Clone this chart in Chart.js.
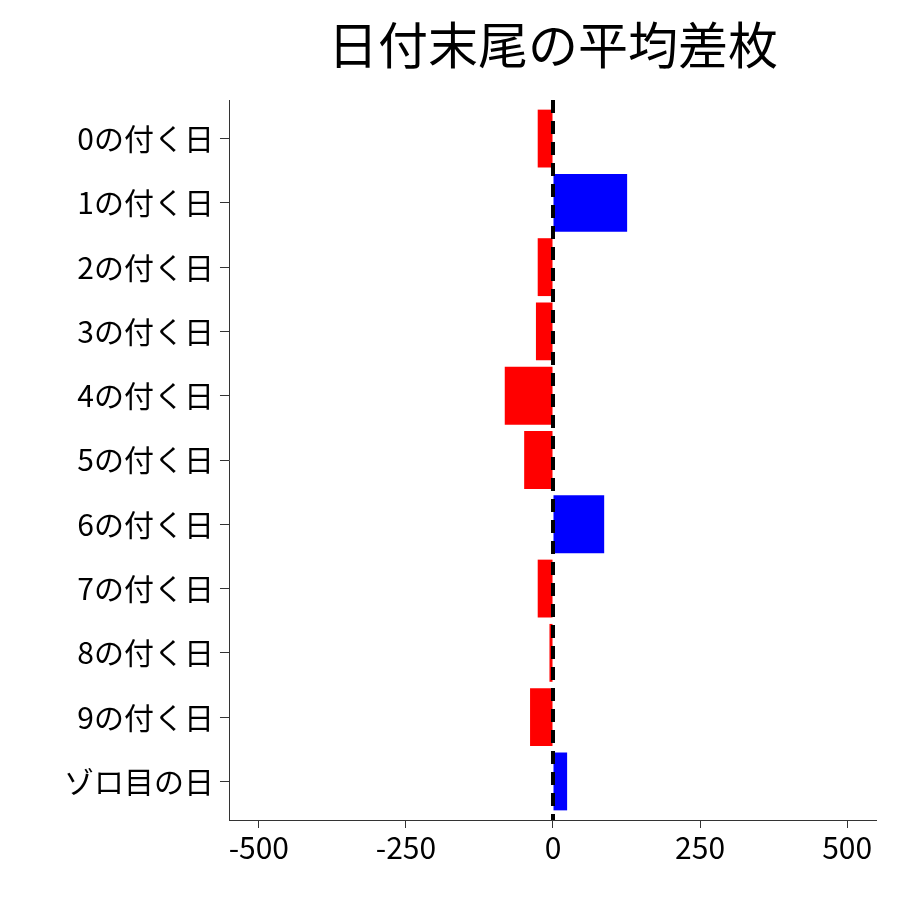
<!DOCTYPE html>
<html><head><meta charset="utf-8">
<script src="https://cdn.jsdelivr.net/npm/chart.js@4/dist/chart.umd.min.js"></script>
<style>html,body{margin:0;background:#fff}#w{width:900px;height:900px}</style>
</head><body><div id="w"><canvas id="c"></canvas></div>
<script>
const categories = ["0の付く日","1の付く日","2の付く日","3の付く日","4の付く日","5の付く日","6の付く日","7の付く日","8の付く日","9の付く日","ゾロ目の日"];
const values = [-26,126,-26,-29,-82,-49,87,-26,-6,-39,24];
const xTicks = [-500,-250,0,250,500];
const titleText = "日付末尾の平均差枚";
const font = "'Noto Sans CJK JP','Noto Sans',sans-serif";

const extras = {
  id:'extras',
  afterDatasetsDraw(ch){
    const {ctx, chartArea:a, scales:{x}} = ch;
    const px = x.getPixelForValue(0);
    ctx.save();
    ctx.strokeStyle='#000'; ctx.lineWidth=4; ctx.setLineDash([13,8]);
    ctx.beginPath(); ctx.moveTo(px,a.top); ctx.lineTo(px,a.bottom); ctx.stroke();
    ctx.setLineDash([]);
    ctx.fillStyle='#000'; ctx.font="50px "+font; ctx.textAlign='center'; ctx.textBaseline='middle';
    ctx.fillText(titleText,(a.left+a.right)/2,45);
    ctx.restore();
  }
};

new Chart(document.getElementById('c'),{
  type:'bar',
  data:{datasets:[{
    data: values.map((v,i)=>({x:v,y:i})),
    backgroundColor: values.map(v=>v>=0?'#0000FF':'#FF0000'),
    barPercentage:0.9, categoryPercentage:1
  }]},
  options:{
    indexAxis:'y', responsive:true, maintainAspectRatio:false, animation:false,
    layout:{padding:{top:100,right:24,left:58,bottom:32}},
    plugins:{legend:{display:false},tooltip:{enabled:false}},
    scales:{
      x:{type:'linear',min:-549,max:549,offset:false,
        afterBuildTicks(s){s.ticks=xTicks.map(v=>({value:v}));},
        grid:{drawOnChartArea:false,offset:false,tickLength:8,color:'#333'},
        border:{color:'#333',width:1},
        ticks:{color:'#000',font:{size:30,family:font},padding:2}},
      y:{type:'linear',reverse:true,min:-0.6,max:10.6,offset:false,
        afterBuildTicks(s){s.ticks=categories.map((c,i)=>({value:i}));},
        grid:{drawOnChartArea:false,offset:false,tickLength:10,color:'#333'},
        border:{color:'#333',width:1},
        ticks:{color:'#000',font:{size:30,family:font},padding:6,autoSkip:false,
          callback:(v)=>categories[v]}}
    }
  },
  plugins:[extras]
});
</script></body></html>
